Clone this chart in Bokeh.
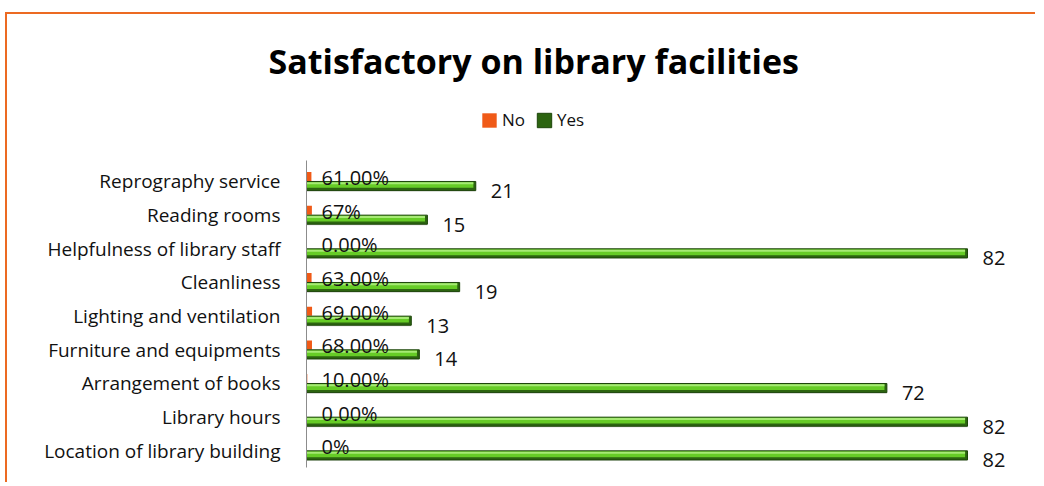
from bokeh.plotting import figure
from bokeh.models import Title, Legend, LegendItem, ColumnDataSource, FixedTicker
from bokeh.transform import dodge
from bokeh.core.properties import value
from bokeh.embed import file_html
from bokeh.resources import INLINE

# ---- data ----
categories = ["Reprography service", "Reading rooms", "Helpfulness of library staff",
              "Cleanliness", "Lighting and ventilation", "Furniture and equipments",
              "Arrangement of books", "Library hours", "Location of library building"]
no_values = [0.61, 0.67, 0.0, 0.63, 0.69, 0.68, 0.10, 0.0, 0.0]
yes_values = [21, 15, 82, 19, 13, 14, 72, 82, 82]
no_labels = ["61.00%", "67%", "0.00%", "63.00%", "69.00%", "68.00%", "10.00%", "0.00%", "0%"]
yes_labels = [str(v) for v in yes_values]
title_text = "Satisfactory on library facilities"

FONT = "Open Sans"
n = len(categories)
positions = list(range(n - 1, -1, -1))   # first category on top

W, H = 1030, 470
frame_left, frame_right_pad, frame_top_pad, frame_bottom_pad = 299, 7, 86, 17
frame_w = W - frame_left - frame_right_pad
frame_h = H - frame_top_pad - frame_bottom_pad
band_px = 33.67
x_max = 82 * frame_w / 661
y_top = -0.5 + frame_h / band_px

src = ColumnDataSource(dict(
    pos=positions, no=no_values, yes=yes_values,
    yes_inner=[max(v - 0.3, 0) for v in yes_values],
    no_label=no_labels, yes_label=yes_labels,
))

p = figure(width=W, height=H, output_backend="svg", toolbar_location=None,
           x_axis_location=None,
           x_range=(0, x_max), y_range=(-0.5, y_top),
           min_border_left=frame_left, min_border_right=frame_right_pad,
           min_border_top=frame_top_pad, min_border_bottom=frame_bottom_pad,
           styles={"border-top": "2px solid #EC6A22", "border-left": "2px solid #EC6A22",
                   "margin-top": "12px", "margin-left": "5px"})

p.title = Title(text=title_text, align="left", offset=-38, standoff=34,
                text_font=FONT, text_font_size="34px", text_font_style="bold",
                text_color="#000000")

yg = dodge("pos", -0.14)
yo = dodge("pos", 0.14)

# soft shadow under the green bars
p.hbar(y=dodge("pos", -0.21), left=0, right="yes", height=0.2, source=src,
       fill_color="#8a8a8a", fill_alpha=0.22, line_color=None)
orange = p.hbar(y=yo, left=0, right="no", height=0.27, source=src,
                fill_color="#F05A17", line_color=None)
green = p.hbar(y=yg, left=0, right="yes", height=0.27, source=src,
               fill_color="#2C6410", line_color="#1C4509", line_width=1)
p.hbar(y=dodge("pos", -0.11), left=0, right="yes_inner", height=0.17, source=src,
       fill_color="#66CC26", line_color=None)
p.hbar(y=dodge("pos", -0.06), left=0, right="yes_inner", height=0.06, source=src,
       fill_color="#A6EA74", line_color=None)

p.text(x=0, y=yo, text="no_label", source=src, x_offset=15, y_offset=1,
       text_baseline="middle", text_align="left", text_font=value(FONT),
       text_font_size="20px", text_color="#111111")
p.text(x="yes", y=yg, text="yes_label", source=src, x_offset=15, y_offset=5,
       text_baseline="middle", text_align="left", text_font=value(FONT),
       text_font_size="20px", text_color="#111111")

legend = Legend(items=[LegendItem(label="No", renderers=[orange]),
                       LegendItem(label="Yes", renderers=[green])],
                location=(174, 336), orientation="horizontal",
                padding=0, margin=0, spacing=10, label_standoff=4,
                glyph_width=18, glyph_height=18,
                label_text_font=FONT, label_text_font_size="17px",
                label_text_color="#111111",
                border_line_color=None, background_fill_alpha=0)
p.add_layout(legend, "center")

p.xgrid.grid_line_color = None
p.ygrid.grid_line_color = None
p.outline_line_color = None
p.yaxis.ticker = FixedTicker(ticks=positions)
p.yaxis.major_label_overrides = {pos: cat for pos, cat in zip(positions, categories)}
p.yaxis.bounds = (-0.5, n - 0.5 + 0.12)
p.yaxis.axis_line_color = "#8c8c8c"
p.yaxis.major_tick_line_color = None
p.yaxis.minor_tick_line_color = None
p.yaxis.major_label_text_font = FONT
p.yaxis.major_label_text_font_size = "19px"
p.yaxis.major_label_text_color = "#111111"
p.yaxis.major_label_standoff = 20

open("out.html", "w").write(file_html(p, INLINE))
